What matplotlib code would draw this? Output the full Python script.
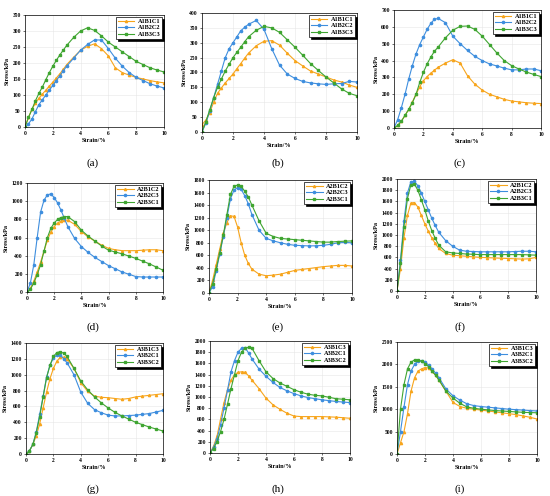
import matplotlib
matplotlib.use("Agg")
import matplotlib.pyplot as plt

STRAIN = [0, 0.25, 0.5, 0.75, 1, 1.25, 1.5, 1.75, 2, 2.25, 2.5, 2.75, 3, 3.5, 4,
          4.5, 5, 5.5, 6, 6.5, 7, 7.5, 8, 8.5, 9, 9.5, 10]

# panel (a)
a_names = ["A1B1C1", "A1B2C2", "A1B3C3"]
a_s1 = [0, 30, 55, 75, 90, 103, 115, 128, 140, 153, 166, 180, 195, 218, 240, 252, 260, 245, 222, 185, 170, 162, 155, 150, 145, 141, 138]
a_s2 = [0, 10, 25, 48, 70, 85, 100, 115, 130, 145, 160, 175, 190, 215, 240, 258, 272, 272, 245, 215, 190, 170, 155, 145, 135, 128, 122]
a_s3 = [0, 30, 55, 82, 105, 125, 148, 170, 190, 208, 225, 240, 255, 280, 300, 310, 302, 285, 265, 250, 235, 220, 205, 195, 185, 178, 172]
# panel (b)
b_names = ["A1B1C1", "A1B2C2", "A1B3C3"]
b_s1 = [25, 40, 65, 100, 130, 148, 165, 180, 195, 213, 230, 248, 265, 290, 305, 307, 292, 265, 240, 222, 205, 195, 185, 175, 168, 158, 150]
b_s2 = [0, 30, 70, 115, 160, 205, 250, 280, 300, 320, 340, 352, 362, 375, 345, 280, 225, 195, 180, 170, 165, 162, 160, 162, 163, 170, 168]
b_s3 = [0, 35, 75, 115, 150, 178, 205, 228, 250, 268, 285, 303, 320, 342, 355, 350, 335, 310, 285, 258, 230, 207, 185, 165, 145, 130, 122]
# panel (c)
c_names = ["A1B1C1", "A1B2C2", "A1B3C3"]
c_s1 = [0, 15, 40, 75, 110, 155, 200, 245, 280, 305, 325, 343, 360, 385, 405, 385, 310, 260, 225, 200, 185, 170, 160, 155, 150, 147, 145]
c_s2 = [0, 50, 120, 200, 290, 370, 440, 495, 540, 585, 620, 645, 650, 625, 545, 500, 460, 425, 400, 380, 368, 355, 345, 345, 350, 350, 340]
c_s3 = [0, 15, 40, 75, 110, 150, 200, 270, 330, 380, 420, 455, 480, 535, 580, 603, 605, 585, 545, 495, 445, 400, 370, 350, 332, 318, 305]
# panel (d)
d_names = ["A2B1C2", "A2B2C3", "A2B3C1"]
d_s1 = [0, 40, 120, 220, 330, 450, 570, 660, 720, 760, 780, 790, 790, 745, 665, 605, 560, 515, 480, 465, 455, 455, 455, 460, 465, 465, 455]
d_s2 = [0, 100, 300, 600, 880, 1010, 1070, 1080, 1040, 980, 900, 810, 720, 590, 500, 435, 380, 335, 290, 255, 220, 195, 170, 165, 165, 165, 165]
d_s3 = [0, 30, 100, 190, 300, 450, 600, 700, 760, 800, 820, 830, 830, 775, 680, 615, 560, 505, 460, 440, 420, 395, 370, 340, 310, 275, 240]
# panel (e)
e_names = ["A2B1C2", "A2B2C3", "A2B3C1"]
e_s1 = [0, 200, 450, 700, 950, 1120, 1230, 1220, 1050, 800, 600, 470, 380, 300, 275, 285, 300, 330, 360, 375, 390, 405, 420, 430, 440, 440, 430]
e_s2 = [0, 100, 350, 620, 900, 1200, 1500, 1640, 1680, 1650, 1550, 1420, 1250, 1000, 870, 830, 800, 775, 760, 755, 750, 752, 760, 775, 800, 805, 800]
e_s3 = [0, 150, 380, 640, 920, 1250, 1570, 1700, 1720, 1700, 1620, 1530, 1400, 1150, 950, 900, 870, 860, 850, 840, 830, 820, 810, 810, 820, 825, 830]
# panel (f)
f_names = ["A2B1C2", "A2B2C3", "A2B3C1"]
f_s1 = [0, 400, 950, 1350, 1570, 1580, 1500, 1350, 1200, 1070, 950, 850, 760, 670, 640, 630, 620, 610, 600, 595, 590, 585, 580, 575, 570, 575, 600]
f_s2 = [0, 550, 1250, 1750, 1950, 1960, 1880, 1750, 1600, 1450, 1300, 1170, 1050, 900, 800, 730, 710, 705, 700, 700, 700, 700, 700, 705, 710, 710, 700]
f_s3 = [0, 500, 1150, 1650, 1900, 1910, 1800, 1630, 1450, 1250, 1080, 940, 820, 700, 680, 670, 660, 655, 650, 650, 650, 650, 650, 650, 650, 645, 640]
# panel (g)
g_names = ["A3B1C3", "A3B2C1", "A3B3C2"]
g_s1 = [0, 40, 120, 230, 380, 580, 780, 950, 1080, 1170, 1220, 1220, 1200, 1080, 900, 790, 730, 715, 710, 700, 690, 700, 720, 730, 740, 750, 760]
g_s2 = [0, 40, 120, 280, 500, 730, 970, 1120, 1210, 1250, 1250, 1200, 1150, 1000, 780, 640, 560, 520, 490, 480, 480, 485, 490, 500, 510, 530, 550]
g_s3 = [0, 40, 120, 270, 470, 720, 960, 1120, 1230, 1280, 1290, 1270, 1230, 1080, 920, 810, 720, 645, 580, 525, 480, 440, 400, 370, 340, 315, 290]
# panel (h)
h_names = ["A3B1C3", "A3B2C1", "A3B3C2"]
h_s1 = [0, 120, 300, 600, 900, 1130, 1300, 1400, 1440, 1450, 1440, 1380, 1300, 1150, 980, 860, 780, 710, 660, 650, 650, 650, 650, 645, 640, 630, 620]
h_s2 = [0, 100, 250, 500, 800, 1120, 1450, 1650, 1800, 1870, 1880, 1790, 1680, 1500, 1370, 1260, 1170, 1110, 1060, 1020, 990, 970, 950, 935, 920, 910, 900]
h_s3 = [0, 80, 200, 380, 600, 870, 1150, 1400, 1650, 1800, 1870, 1890, 1870, 1650, 1450, 1330, 1250, 1190, 1130, 1085, 1050, 1030, 1020, 995, 970, 960, 950]
# panel (i)
i_names = ["A3B1C3", "A3B2C1", "A3B3C2"]
i_s1 = [0, 250, 500, 900, 1400, 1700, 1850, 1900, 1930, 1920, 1850, 1760, 1650, 1400, 1150, 1060, 1020, 1000, 980, 960, 940, 920, 900, 880, 850, 820, 780]
i_s2 = [0, 500, 1050, 1550, 1850, 2000, 2070, 2080, 2050, 1990, 1900, 1810, 1700, 1450, 1300, 1200, 1120, 1080, 1060, 1045, 1030, 1015, 1000, 990, 980, 970, 960]
i_s3 = [0, 1000, 1550, 1900, 2050, 2100, 2100, 2070, 2020, 1950, 1850, 1760, 1650, 1400, 1250, 1130, 1050, 1020, 1000, 985, 970, 960, 950, 940, 930, 925, 920]

PANEL_TAGS = ["(a)", "(b)", "(c)", "(d)", "(e)", "(f)", "(g)", "(h)", "(i)"]
Y_MAX = [350, 400, 700, 1200, 1800, 2000, 1400, 2000, 2500]
Y_STEP = [50, 50, 100, 200, 200, 200, 200, 200, 500]

panels = [
    (a_names, [a_s1, a_s2, a_s3]),
    (b_names, [b_s1, b_s2, b_s3]),
    (c_names, [c_s1, c_s2, c_s3]),
    (d_names, [d_s1, d_s2, d_s3]),
    (e_names, [e_s1, e_s2, e_s3]),
    (f_names, [f_s1, f_s2, f_s3]),
    (g_names, [g_s1, g_s2, g_s3]),
    (h_names, [h_s1, h_s2, h_s3]),
    (i_names, [i_s1, i_s2, i_s3]),
]

W, H = 550, 496
# axes boxes in pixels: left, right, top, bottom
boxes = [
    (25, 164, 15, 127), (202, 357, 13, 132), (394, 541, 10, 128),
    (27, 163, 183, 292), (209, 352, 180, 293), (397, 536, 179, 291),
    (26, 163, 343, 454), (210, 350, 341, 453), (397, 537, 342, 454),
]
tag_pos = [(93, 163), (278, 163), (460, 163),
           (93, 327), (278, 327), (460, 327),
           (93, 489), (278, 489), (460, 489)]

colors = ["#F7A51C", "#3E8EDE", "#3FA531"]
markers = ["^", "o", "s"]

plt.rcParams["font.family"] = ["Liberation Serif", "DejaVu Serif"]
fig = plt.figure(figsize=(W / 100, H / 100), dpi=100)
fig.patch.set_facecolor("white")

for k, (names, series) in enumerate(panels):
    l, r, t, b = boxes[k]
    ax = fig.add_axes([l / W, 1 - b / H, (r - l) / W, (b - t) / H])
    for j, ys in enumerate(series):
        ax.plot(STRAIN, ys, color=colors[j], marker=markers[j], markersize=1.6,
                linewidth=0.8, label=names[j])
    ax.set_xlim(0, 10)
    ax.set_ylim(0, Y_MAX[k])
    ax.set_xticks(range(0, 11, 2))
    ax.set_yticks(range(0, Y_MAX[k] + 1, Y_STEP[k]))
    ax.tick_params(labelsize=4, length=1.5, width=0.4, pad=1.5)
    for lab in ax.get_xticklabels() + ax.get_yticklabels():
        lab.set_fontweight("bold")
    ax.grid(True, color="#e6e6e6", linewidth=0.4)
    ax.set_axisbelow(True)
    for sp in ax.spines.values():
        sp.set_linewidth(0.5)
    ax.set_xlabel("Strain/%", fontsize=4.5, fontweight="bold", labelpad=1.5)
    ax.set_ylabel("Stress/kPa", fontsize=4.5, fontweight="bold", labelpad=2)
    leg = ax.legend(loc="upper right", fontsize=4.5, frameon=True, fancybox=False,
                    shadow={"color": "black", "ox": 1.5, "oy": -1.5, "alpha": 1},
                    handlelength=2.6, borderpad=0.3, labelspacing=0.15,
                    handletextpad=0.5, borderaxespad=0.3)
    leg.get_frame().set_edgecolor("black")
    leg.get_frame().set_linewidth(0.5)
    for txt in leg.get_texts():
        txt.set_fontweight("bold")
    fig.text(tag_pos[k][0] / W, 1 - tag_pos[k][1] / H, PANEL_TAGS[k],
             ha="center", va="center", fontsize=8)

fig.savefig("out.png", dpi=100, facecolor="white")
